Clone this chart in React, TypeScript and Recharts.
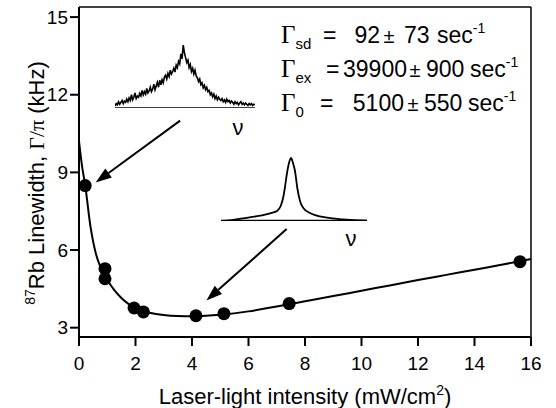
import React from "react";
import {
  ComposedChart, LineChart, Line, Scatter,
  XAxis, YAxis, ReferenceLine
} from "recharts";

/* fitted curve */
const fitX = [0, 0.1, 0.22, 0.4, 0.6, 0.8, 1.0, 1.25, 1.5, 1.75, 2.0, 2.5, 3.0, 3.5, 4.0, 4.5, 5.0, 6, 7, 8, 9, 10, 11, 12, 13, 14, 15, 16];
const fitY = [10.2, 9.3, 8.5, 6.95, 5.85, 5.25, 4.85, 4.45, 4.15, 3.92, 3.75, 3.58, 3.49, 3.45, 3.44, 3.46, 3.5, 3.63, 3.82, 4.02, 4.22, 4.43, 4.63, 4.84, 5.04, 5.24, 5.44, 5.65];

/* measured points */
const pointX = [0.22, 0.92, 0.92, 1.95, 2.28, 4.14, 5.13, 7.44, 15.61];
const pointY = [8.49, 5.28, 4.89, 3.76, 3.61, 3.46, 3.54, 3.93, 5.55];

const xTicks = [0, 2, 4, 6, 8, 10, 12, 14, 16];
const yTicks = [3, 6, 9, 12, 15];

/* arrows: tail -> tip, in data units */
const arrowA = [{ x: 3.58, y: 11.0 }, { x: 0.59, y: 8.61 }];
const arrowB = [{ x: 7.35, y: 6.81 }, { x: 4.51, y: 4.05 }];

/* noisy low-power spectrum (inset, arbitrary units) */
const noisySpec = [
  0.03, 0.07, 0.05, 0.10, 0.06, 0.09, 0.12, 0.07, 0.11, 0.09,
  0.14, 0.10, 0.16, 0.12, 0.21, 0.13, 0.17, 0.24, 0.15, 0.19,
  0.17, 0.23, 0.19, 0.28, 0.21, 0.26, 0.22, 0.31, 0.24, 0.27,
  0.33, 0.26, 0.30, 0.38, 0.29, 0.35, 0.41, 0.33, 0.44, 0.37,
  0.45, 0.40, 0.49, 0.52, 0.46, 0.55, 0.50, 0.60, 0.54, 0.58,
  0.63, 0.57, 0.68, 0.64, 0.74, 0.70, 0.86, 0.78, 1.00, 0.88,
  0.80, 0.72, 0.76, 0.64, 0.69, 0.58, 0.63, 0.54, 0.60, 0.51,
  0.48, 0.42, 0.46, 0.37, 0.40, 0.32, 0.36, 0.29, 0.33, 0.26,
  0.28, 0.21, 0.24, 0.18, 0.22, 0.15, 0.19, 0.13, 0.17, 0.14,
  0.12, 0.15, 0.10, 0.13, 0.09, 0.14, 0.10, 0.12, 0.08, 0.11,
  0.09, 0.06, 0.10, 0.07, 0.09, 0.05, 0.08, 0.10, 0.06, 0.08,
  0.05, 0.08, 0.06, 0.04, 0.07, 0.05, 0.07, 0.04, 0.06, 0.05
];

/* narrow lorentzian spectrum (inset, arbitrary units) */
const lorX = [-70, -64, -48, -31, -20, -14, -10.3, -7.7, -6, -4.3, -2, 0, 2, 4, 6.3, 9, 12.3, 19, 36, 52, 69, 76];
const lorY = [0.2, 0.4, 2.7, 5.3, 7.8, 10, 15, 24, 34, 46, 58, 63, 58, 50, 33, 20, 13, 8, 3.3, 1.7, 0.7, 0.4];

const fitData = fitX.map((x, i) => ({ x, y: fitY[i] }));
const pointData = pointX.map((x, i) => ({ x, y: pointY[i] }));
const noisyData = noisySpec.map((y, i) => ({ i, y }));
const lorData = lorX.map((x, i) => ({ x, y: lorY[i] }));

const FONT = "'Liberation Sans', Arial, Helvetica, sans-serif";
const SERIF = "'Liberation Serif', 'Times New Roman', serif";

const Arrow = (p: any) => {
  const { x1, y1, x2, y2 } = p;
  const dx = x2 - x1, dy = y2 - y1;
  const len = Math.sqrt(dx * dx + dy * dy);
  const ux = dx / len, uy = dy / len;
  const bx = x2 - ux * 16, by = y2 - uy * 16;
  const nx = -uy * 5.5, ny = ux * 5.5;
  return (
    <g>
      <line x1={x1} y1={y1} x2={bx} y2={by} stroke="#000" strokeWidth={2} />
      <polygon points={`${x2},${y2} ${bx + nx},${by + ny} ${bx - nx},${by - ny}`} fill="#000" />
    </g>
  );
};

const YLabel = ({ viewBox }: any) => {
  const cx = viewBox.x + 44;
  const cy = viewBox.y + viewBox.height / 2 + 11;
  return (
    <text x={cx} y={cy} transform={`rotate(-90 ${cx} ${cy})`} textAnchor="middle"
      fontSize={22} fontFamily={FONT} fill="#000">
      <tspan fontSize={14} dy={-9}>87</tspan>
      <tspan dy={9}>Rb Linewidth, </tspan>
      <tspan fontFamily={SERIF}>Γ/π</tspan>
      <tspan> (kHz)</tspan>
    </text>
  );
};

const XLabel = ({ viewBox }: any) => {
  const cx = viewBox.x + viewBox.width / 2;
  const cy = viewBox.y + 67;
  return (
    <text x={cx} y={cy} textAnchor="middle" fontSize={22} fontFamily={FONT} fill="#000">
      Laser-light intensity (mW/cm<tspan fontSize={14} dy={-9}>2</tspan><tspan dy={9}>)</tspan>
    </text>
  );
};

const Dot = (p: any) => <circle cx={p.cx} cy={p.cy} r={6.5} fill="#000" />;

/* one line of the fit results */
const FitLine = ({ y, sub, eq, a, aEnd, pm, b, bStart, sec }: any) => (
  <g fontFamily={FONT} fontSize={23} fill="#000">
    <text x={281} y={y}><tspan fontFamily={SERIF} fontSize={25}>Γ</tspan><tspan fontSize={15} dy={6}>{sub}</tspan></text>
    <text x={eq} y={y}>=</text>
    <text x={aEnd} y={y} textAnchor="end">{a}</text>
    <text x={pm} y={y} textAnchor="middle" fontSize={20}>±</text>
    <text x={bStart} y={y}>{b}</text>
    <text x={sec} y={y}>sec<tspan fontSize={14} dy={-10}>-1</tspan></text>
  </g>
);

export default function App() {
  const tick = { fill: "#000", fontSize: 19, fontFamily: FONT };
  return (
    <div style={{ position: "absolute", left: 0, top: 0, width: 556, height: 408, background: "#fff" }}>
      <ComposedChart width={556} height={408} margin={{ top: 7, right: 25, bottom: 0, left: 0 }}>
        <XAxis type="number" dataKey="x" domain={[0, 16]} ticks={xTicks} height={71}
          tick={tick} tickSize={9} tickMargin={11}
          axisLine={{ stroke: "#000", strokeWidth: 2 }} tickLine={{ stroke: "#000", strokeWidth: 2 }}
          label={{ content: XLabel }} />
        <YAxis type="number" dataKey="y" domain={[2.64, 15.39]} ticks={yTicks} width={79}
          tick={tick} tickSize={9} tickMargin={2}
          axisLine={{ stroke: "#000", strokeWidth: 2 }} tickLine={{ stroke: "#000", strokeWidth: 2 }}
          label={{ content: YLabel }} />
        <ReferenceLine y={15.39} stroke="#000" strokeWidth={1.5} />
        <ReferenceLine x={16} stroke="#000" strokeWidth={1.5} />
        <Line data={fitData} dataKey="y" type="monotone" stroke="#000" strokeWidth={2}
          dot={false} activeDot={false} isAnimationActive={false} />
        <Scatter data={pointData} dataKey="y" fill="#000" shape={Dot} isAnimationActive={false} />
        <ReferenceLine segment={arrowA} shape={Arrow} />
        <ReferenceLine segment={arrowB} shape={Arrow} />
      </ComposedChart>

      <div style={{ position: "absolute", left: 115, top: 40 }}>
        <LineChart width={140} height={68} data={noisyData} margin={{ top: 0, right: 0, bottom: 0, left: 0 }}>
          <XAxis type="number" dataKey="i" domain={[0, 119]} hide />
          <YAxis type="number" domain={[0, 1.08]} hide />
          <ReferenceLine y={0} stroke="#000" strokeWidth={1.5} />
          <Line dataKey="y" type="linear" stroke="#000" strokeWidth={1.6} dot={false}
            activeDot={false} isAnimationActive={false} />
        </LineChart>
      </div>

      <div style={{ position: "absolute", left: 221, top: 150 }}>
        <LineChart width={146} height={71} data={lorData} margin={{ top: 0, right: 0, bottom: 0, left: 0 }}>
          <XAxis type="number" dataKey="x" domain={[-70, 76]} hide />
          <YAxis type="number" domain={[0, 71]} hide />
          <ReferenceLine y={0} stroke="#000" strokeWidth={2.5} />
          <Line dataKey="y" type="monotone" stroke="#000" strokeWidth={1.8} dot={false}
            activeDot={false} isAnimationActive={false} />
        </LineChart>
      </div>

      <svg width={556} height={408} style={{ position: "absolute", left: 0, top: 0, pointerEvents: "none" }}>
        <FitLine y={43} sub="sd" eq={323} a="92" aEnd={380} pm={389} b="73" bStart={404} sec={437} />
        <FitLine y={77} sub="ex" eq={326} a="39900" aEnd={407} pm={415} b="900" bStart={426} sec={470} />
        <FitLine y={111} sub="0" eq={320} a="5100" aEnd={404} pm={413} b="550" bStart={424} sec={468} />
        <text x={238} y={135} textAnchor="middle" fontSize={22} fontFamily={FONT} fill="#000">ν</text>
        <text x={351} y={246} textAnchor="middle" fontSize={22} fontFamily={FONT} fill="#000">ν</text>
      </svg>
    </div>
  );
}
